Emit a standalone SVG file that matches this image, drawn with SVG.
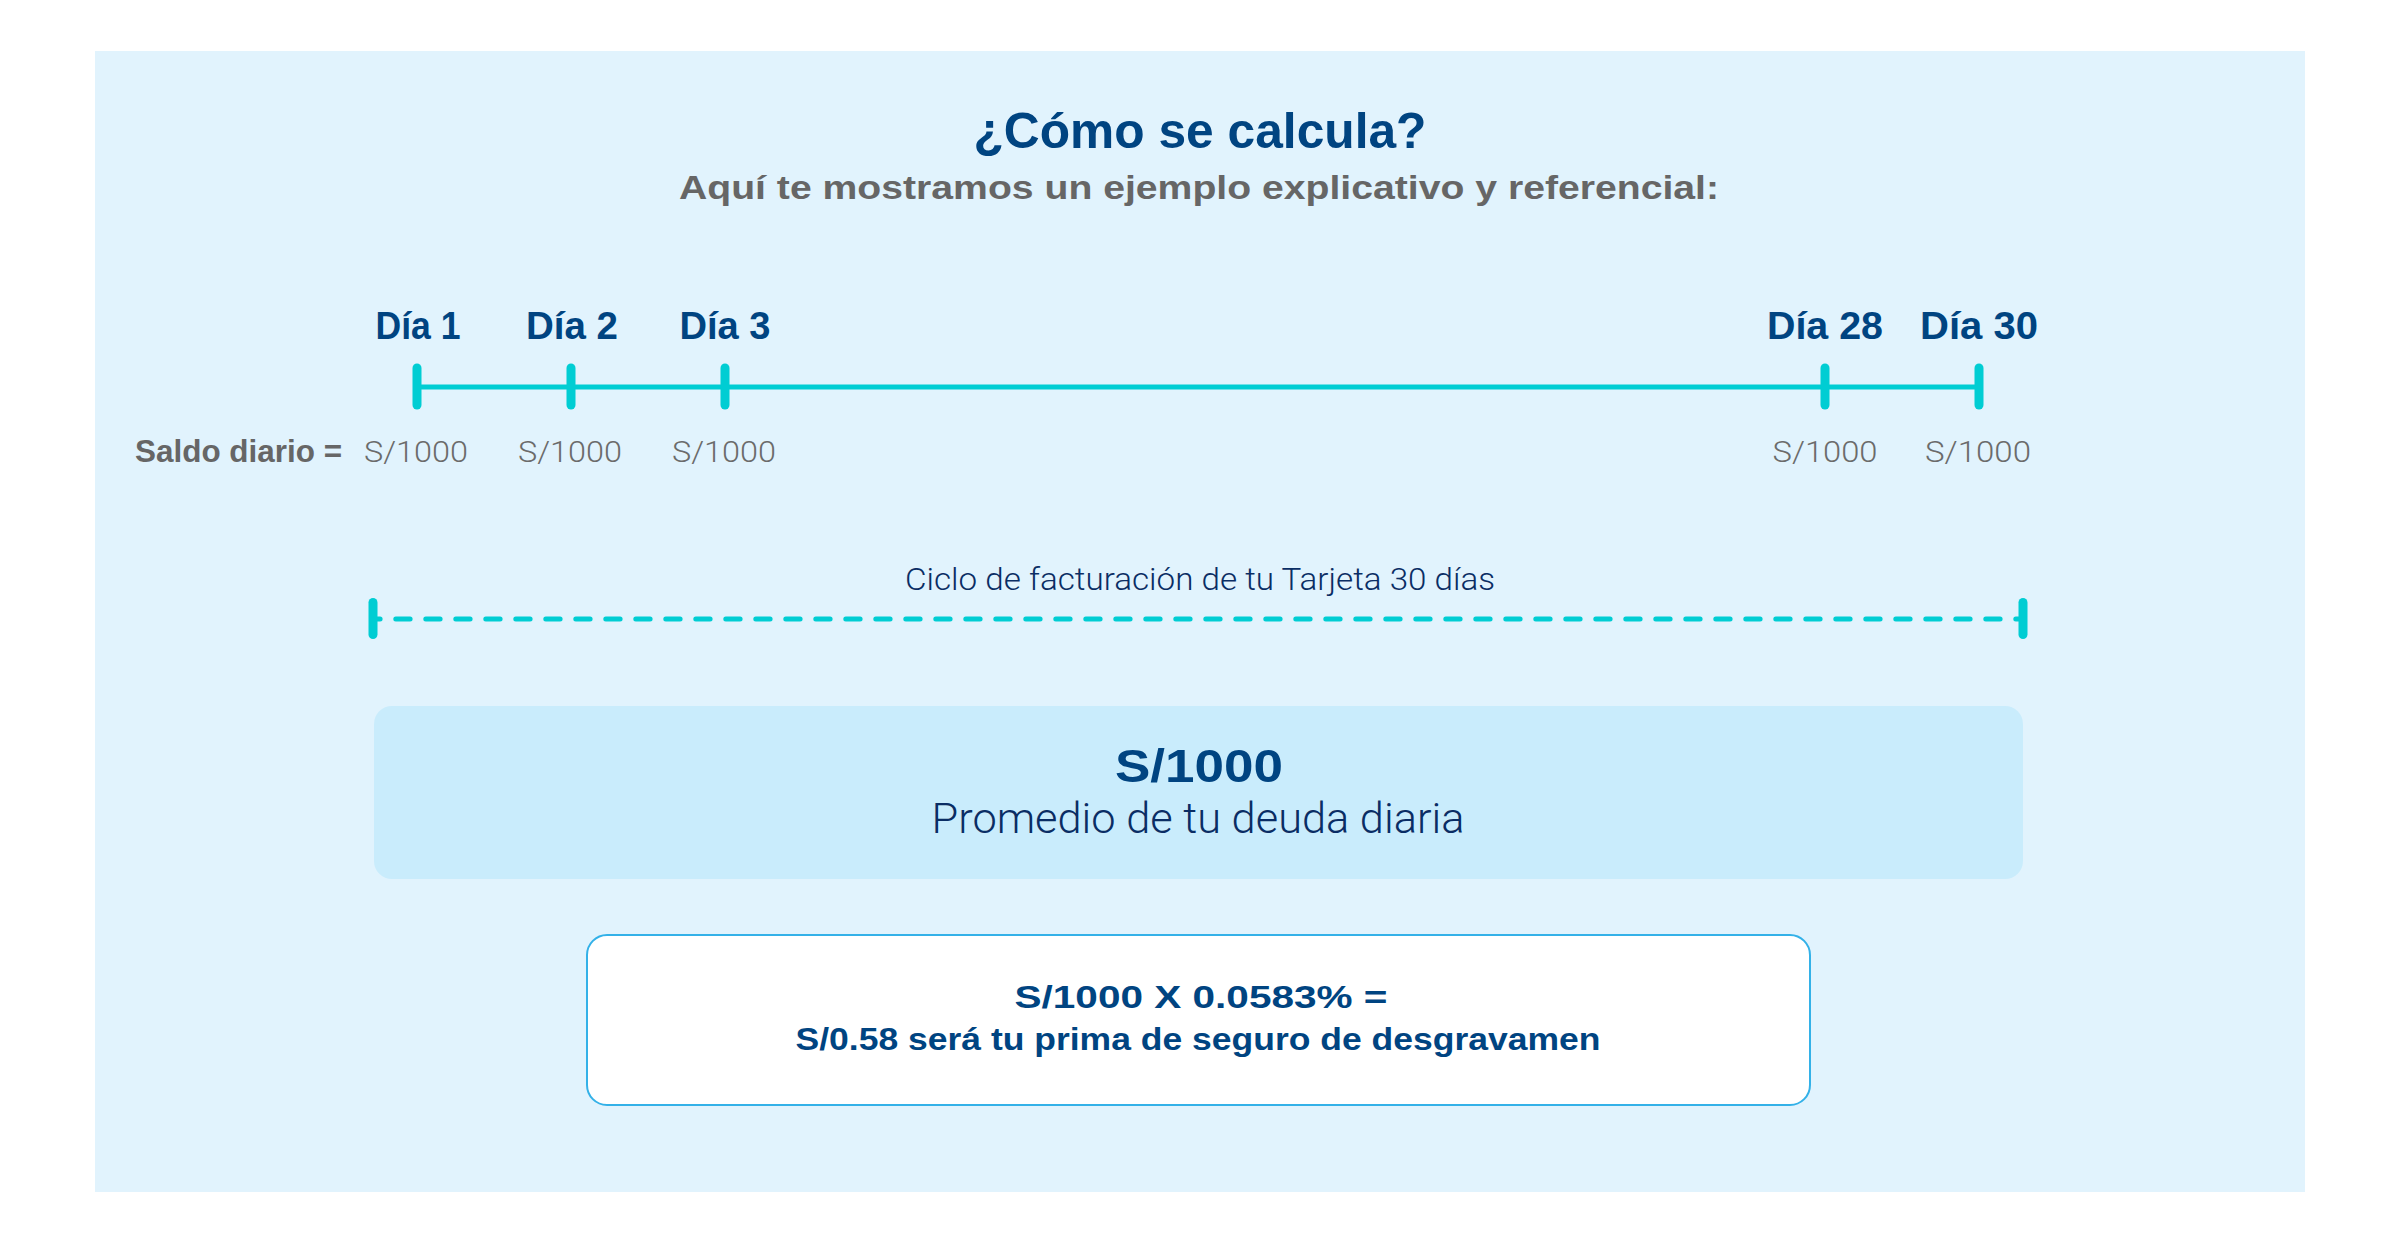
<svg xmlns="http://www.w3.org/2000/svg" width="2400" height="1241" viewBox="0 0 2400 1241">
  <style>
    .bold { font-family: "Liberation Sans", Arial, sans-serif; font-weight: 700; }
    .light { font-family: Roboto, "Liberation Sans", Arial, sans-serif; font-weight: 300; }
    .navy { fill: #004481; }
    .deep { fill: #0A2D64; }
    .gray { fill: #666666; }
    .lgray { fill: #6B6B6B; }
    .dia { font-size: 38px; text-anchor: middle; }
    .amt { font-size: 30px; text-anchor: middle; }
    .teal { stroke: #00CDD3; fill: none; stroke-linecap: round; }
  </style>
  <rect x="0" y="0" width="2400" height="1241" fill="#FFFFFF"/>
  <rect id="panel" x="95" y="51" width="2210" height="1141" fill="#E1F3FD"/>

  <g id="title">
    <text class="bold navy" x="1200" y="148" font-size="50" text-anchor="middle" textLength="453" lengthAdjust="spacingAndGlyphs">¿Cómo se calcula?</text>
    <text class="bold gray" x="1199" y="199" font-size="34" text-anchor="middle" textLength="1040" lengthAdjust="spacingAndGlyphs">Aquí te mostramos un ejemplo explicativo y referencial:</text>
  </g>

  <g id="connectors">
    <line class="teal" x1="417" y1="387" x2="1979" y2="387" stroke-width="5"/>
    <line class="teal" x1="417" y1="368" x2="417" y2="405" stroke-width="9"/>
    <line class="teal" x1="571" y1="368" x2="571" y2="405" stroke-width="9"/>
    <line class="teal" x1="725" y1="368" x2="725" y2="405" stroke-width="9"/>
    <line class="teal" x1="1825" y1="368" x2="1825" y2="405" stroke-width="9"/>
    <line class="teal" x1="1979" y1="368" x2="1979" y2="405" stroke-width="9"/>
    <line class="teal" x1="373" y1="619" x2="2023" y2="619" stroke-width="5" stroke-dasharray="14.3 15.7" stroke-dashoffset="7.2"/>
    <line class="teal" x1="373" y1="602.5" x2="373" y2="634.5" stroke-width="9"/>
    <line class="teal" x1="2023" y1="602.5" x2="2023" y2="634.5" stroke-width="9"/>
  </g>

  <g id="day1">
    <text class="bold navy dia" x="418" y="339" textLength="85" lengthAdjust="spacingAndGlyphs">Día 1</text>
    <text class="light lgray amt" x="416" y="462" textLength="104" lengthAdjust="spacingAndGlyphs">S/1000</text>
  </g>
  <g id="day2">
    <text class="bold navy dia" x="572" y="339" textLength="92" lengthAdjust="spacingAndGlyphs">Día 2</text>
    <text class="light lgray amt" x="570" y="462" textLength="104" lengthAdjust="spacingAndGlyphs">S/1000</text>
  </g>
  <g id="day3">
    <text class="bold navy dia" x="725" y="339" textLength="91" lengthAdjust="spacingAndGlyphs">Día 3</text>
    <text class="light lgray amt" x="724" y="462" textLength="104" lengthAdjust="spacingAndGlyphs">S/1000</text>
  </g>
  <g id="day28">
    <text class="bold navy dia" x="1825" y="339" textLength="116" lengthAdjust="spacingAndGlyphs">Día 28</text>
    <text class="light lgray amt" x="1825" y="462" textLength="105" lengthAdjust="spacingAndGlyphs">S/1000</text>
  </g>
  <g id="day30">
    <text class="bold navy dia" x="1979" y="339" textLength="118" lengthAdjust="spacingAndGlyphs">Día 30</text>
    <text class="light lgray amt" x="1978" y="462" textLength="106" lengthAdjust="spacingAndGlyphs">S/1000</text>
  </g>

  <g id="saldo-label">
    <text class="bold gray" x="135" y="462" font-size="32" textLength="207" lengthAdjust="spacingAndGlyphs">Saldo diario =</text>
  </g>

  <g id="ciclo-label">
    <text class="light deep" x="1200" y="590" font-size="32" text-anchor="middle" textLength="590" lengthAdjust="spacingAndGlyphs">Ciclo de facturación de tu Tarjeta 30 días</text>
  </g>

  <g id="promedio-box">
    <rect x="374" y="706" width="1649" height="173" rx="18" ry="18" fill="#C9ECFC"/>
    <text class="bold navy" x="1199" y="782" font-size="47" text-anchor="middle" textLength="168" lengthAdjust="spacingAndGlyphs">S/1000</text>
    <text class="light deep" x="1198" y="833" font-size="42" text-anchor="middle" textLength="533" lengthAdjust="spacingAndGlyphs">Promedio de tu deuda diaria</text>
  </g>

  <g id="resultado-box">
    <rect x="587" y="935" width="1223" height="170" rx="20" ry="20" fill="#FFFFFF" stroke="#33B1E8" stroke-width="2"/>
    <text class="bold navy" x="1201" y="1008" font-size="32" text-anchor="middle" textLength="373" lengthAdjust="spacingAndGlyphs">S/1000 X 0.0583% =</text>
    <text class="bold navy" x="1198" y="1050" font-size="32" text-anchor="middle" textLength="805" lengthAdjust="spacingAndGlyphs">S/0.58 <tspan font-weight="600">será tu prima de seguro de desgravamen</tspan></text>
  </g>
</svg>
